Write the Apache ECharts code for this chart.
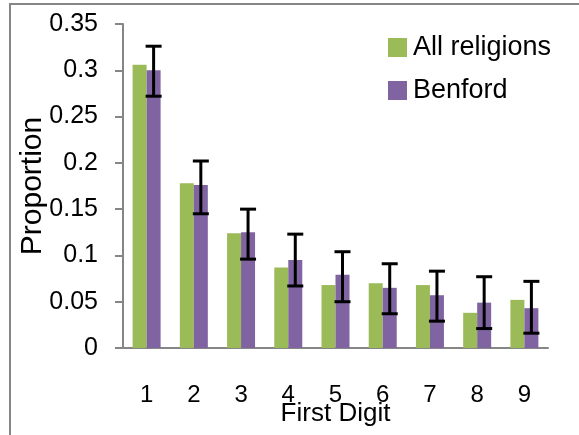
<!DOCTYPE html>
<html>
<head>
<meta charset="utf-8">
<script src="https://cdn.jsdelivr.net/npm/echarts@6/dist/echarts.min.js"></script>
<style>
  html, body { margin: 0; padding: 0; background: #fff; }
  #chart { width: 579px; height: 435px; }
</style>
</head>
<body>
<div id="chart"></div>
<script>
const digits = ['1', '2', '3', '4', '5', '6', '7', '8', '9']
const allReligions = [0.306, 0.178, 0.124, 0.087, 0.068, 0.070, 0.068, 0.038, 0.052]
const benford = [0.300, 0.176, 0.125, 0.095, 0.079, 0.065, 0.057, 0.049, 0.043]
const errHigh = [0.326, 0.202, 0.150, 0.123, 0.104, 0.091, 0.083, 0.077, 0.072]
const errLow = [0.272, 0.145, 0.096, 0.067, 0.050, 0.037, 0.029, 0.021, 0.016]

const font = 'Liberation Sans'
const axisGrey = '#868686'
const barW = 14

const chart = echarts.init(document.getElementById('chart'))

chart.setOption({
  animation: false,
  backgroundColor: '#fff',
  textStyle: { fontFamily: font, color: '#000' },
  grid: { left: 123, right: 31, top: 24, bottom: 87, containLabel: false, outerBoundsMode: 'none' },
  legend: {
    orient: 'vertical',
    left: 383,
    top: 29,
    itemWidth: 19,
    itemHeight: 19,
    itemGap: 16,
    icon: 'rect',
    data: ['All religions', 'Benford'],
    textStyle: { fontFamily: font, fontSize: 27, color: '#000', padding: [0, 0, 0, 1] },
  },
  xAxis: {
    type: 'category',
    data: digits,
    name: 'First Digit',
    nameLocation: 'middle',
    nameMoveOverlap: false,
    nameGap: 53,
    nameTextStyle: { fontFamily: font, fontSize: 26, color: '#000' },
    axisLine: { lineStyle: { color: axisGrey, width: 2 } },
    axisTick: { length: 8, lineStyle: { color: axisGrey, width: 2 } },
    axisLabel: { fontFamily: font, fontSize: 24, color: '#000', margin: 35 },
  },
  yAxis: {
    type: 'value',
    min: 0,
    max: 0.35,
    interval: 0.05,
    name: 'Proportion',
    nameLocation: 'middle',
    nameMoveOverlap: false,
    nameGap: 75,
    nameTextStyle: { fontFamily: font, fontSize: 30, color: '#000' },
    axisLine: { show: true, lineStyle: { color: axisGrey, width: 2 } },
    axisTick: { show: true, length: 8, lineStyle: { color: axisGrey, width: 2 } },
    splitLine: { show: false },
    axisLabel: { fontFamily: font, fontSize: 25, color: '#000', margin: 25 },
  },
  series: [
    {
      name: 'All religions',
      type: 'bar',
      data: allReligions,
      barWidth: barW,
      barGap: '0%',
      itemStyle: { color: '#9BBB59' },
    },
    {
      name: 'Benford',
      type: 'bar',
      data: benford,
      barWidth: barW,
      barGap: '0%',
      itemStyle: { color: '#8064A2' },
    },
    {
      name: 'error',
      type: 'custom',
      z: 10,
      data: digits.map((d, i) => [i, errLow[i], errHigh[i]]),
      renderItem(params, api) {
        const lo = api.coord([api.value(0), api.value(1)])
        const hi = api.coord([api.value(0), api.value(2)])
        const x = lo[0] + barW / 2
        const cap = 8
        const style = { stroke: '#000', lineWidth: 3 }
        return {
          type: 'group',
          children: [
            { type: 'line', shape: { x1: x, y1: lo[1], x2: x, y2: hi[1] }, style },
            { type: 'line', shape: { x1: x - cap, y1: lo[1], x2: x + cap, y2: lo[1] }, style },
            { type: 'line', shape: { x1: x - cap, y1: hi[1], x2: x + cap, y2: hi[1] }, style },
          ],
        }
      },
    },
  ],
  graphic: [
    { type: 'line', shape: { x1: 9, y1: 4, x2: 579, y2: 4 }, style: { stroke: axisGrey, lineWidth: 2 } },
    { type: 'line', shape: { x1: 10, y1: 3, x2: 10, y2: 435 }, style: { stroke: axisGrey, lineWidth: 2 } },
  ],
})
</script>
</body>
</html>
